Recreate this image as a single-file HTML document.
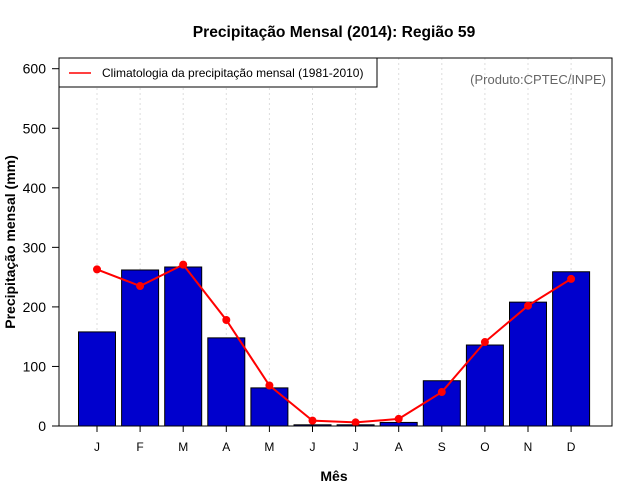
<!DOCTYPE html>
<html><head><meta charset="utf-8"><style>
body{margin:0;background:#fff}
svg{display:block;font-family:"Liberation Sans",sans-serif}
</style></head><body>
<svg id="chart" width="640" height="500">
<text x="334" y="37" text-anchor="middle" font-size="15.6" font-weight="bold">Precipitação Mensal (2014): Região 59</text>
<g id="grid"></g><g id="bars"></g><g id="line"></g><g id="axes"></g>
<rect x="59" y="58" width="553" height="368" fill="none" stroke="#000"/>
<g>
<rect x="59" y="58" width="318" height="29" fill="#fff" stroke="#000"/>
<line x1="69" y1="73" x2="91" y2="73" stroke="red" stroke-width="1.5"/>
<text x="102" y="77" font-size="12">Climatologia da precipitação mensal (1981-2010)</text>
</g>
<text x="606" y="84" text-anchor="end" font-size="13" fill="#666">(Produto:CPTEC/INPE)</text>
<text x="334" y="481" text-anchor="middle" font-size="14" font-weight="bold">Mês</text>
<text transform="translate(15,242) rotate(-90)" text-anchor="middle" font-size="14" font-weight="bold">Precipitação mensal (mm)</text>
</svg>
<script>
const months=["J","F","M","A","M","J","J","A","S","O","N","D"];
const precip=[158,262,267,148,64,2,2,6,76,136,208,259];
const clim=[263,235,271,178,68,9,6,12,57,141,202,247];
const yTicks=[0,100,200,300,400,500,600];
const NS="http://www.w3.org/2000/svg";
const x=i=>97+i*43.1;
const y=v=>426-v*0.5955;
function mk(t,a,p){const e=document.createElementNS(NS,t);for(const k in a)e.setAttribute(k,a[k]);document.getElementById(p).appendChild(e);return e;}
months.forEach((m,i)=>{
  const g=mk("line",{x1:x(i),x2:x(i),y1:58,y2:426,stroke:"#ddd","stroke-dasharray":"2,3"},"grid");
  
  
  const b=mk("rect",{x:x(i)-18.5,y:y(precip[i]),width:37,height:426-y(precip[i]),fill:"#0000cd",stroke:"#000","stroke-width":1},"bars");
  
  
  const tk=mk("line",{x1:x(i),x2:x(i),y1:426,y2:432,stroke:"#000"},"axes");
  
  
  const t=mk("text",{x:x(i),y:451,"text-anchor":"middle","font-size":12},"axes");
  t.textContent=m;
  
  
});
const pl=mk("polyline",{points:clim.map((v,i)=>x(i)+","+y(v)).join(" "),fill:"none",stroke:"red","stroke-width":2},"line");


clim.forEach((v,i)=>{
  const c=mk("circle",{cx:x(i),cy:y(v),r:4,fill:"red"},"line");
  
  
});
yTicks.forEach(v=>{
  const l=mk("line",{x1:52,x2:59,y1:y(v),y2:y(v),stroke:"#000"},"axes");
  
  
  const t=mk("text",{x:46,y:y(v)+5,"text-anchor":"end","font-size":14},"axes");
  t.textContent=v;
  
  
});
</script>
</body></html>
